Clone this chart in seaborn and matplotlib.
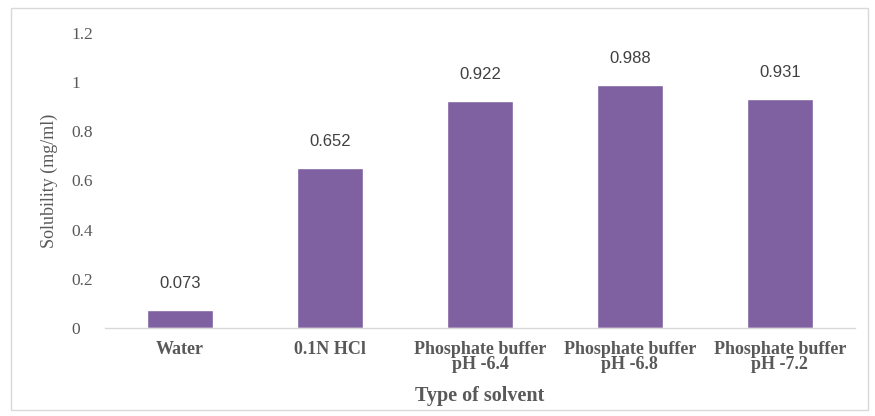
import matplotlib
matplotlib.use("Agg")
import matplotlib.pyplot as plt
import seaborn as sns
import pandas as pd
from matplotlib.patches import Rectangle

categories = ["Water", "0.1N HCl", "Phosphate buffer\npH -6.4", "Phosphate buffer\npH -6.8", "Phosphate buffer\npH -7.2"]
values = [0.073, 0.652, 0.922, 0.988, 0.931]
yticks = [0, 0.2, 0.4, 0.6, 0.8, 1, 1.2]
ytick_labels = ["0", "0.2", "0.4", "0.6", "0.8", "1", "1.2"]

df = pd.DataFrame({"Solvent": categories, "Solubility": values})

sns.set_theme(style="white")
fig = plt.figure(figsize=(8.75, 4.16), dpi=100)
ax = fig.add_axes([0.12, 0.2115, 0.857, 0.7095])

sns.barplot(data=df, x="Solvent", y="Solubility", color="#7f60a0", saturation=1,
            width=0.44, ax=ax)

ax.set_ylim(0, 1.2)
ax.set_yticks(yticks)
ax.set_yticklabels(ytick_labels, family="Liberation Serif", fontsize=12.5, color="#595959",
                   ha="left")
ax.set_xticklabels(categories, family="Liberation Serif", fontsize=13, fontweight="bold",
                   color="#595959", linespacing=0.85)
ax.tick_params(axis="both", length=0)
ax.tick_params(axis="x", pad=9)
ax.tick_params(axis="y", pad=24)

for sp in ["top", "right", "left"]:
    ax.spines[sp].set_visible(False)
ax.spines["bottom"].set_color("#d9d9d9")
ax.spines["bottom"].set_linewidth(1)

for container in ax.containers:
    ax.bar_label(container, labels=[f"{v:.3f}" for v in values], padding=13.5,
                 family="Liberation Sans", fontsize=12, color="#404040")

ax.set_ylabel("Solubility (mg/ml)", family="Liberation Serif", fontsize=13, color="#595959", labelpad=10)
ax.set_xlabel("Type of solvent", family="Liberation Serif", fontsize=14.5, fontweight="bold",
              color="#595959", labelpad=10)

fig.patches.append(Rectangle((0.012, 0.015), 0.98, 0.965, transform=fig.transFigure,
                             fill=False, edgecolor="#d9d9d9", linewidth=1))

fig.savefig("out.png", dpi=100)
